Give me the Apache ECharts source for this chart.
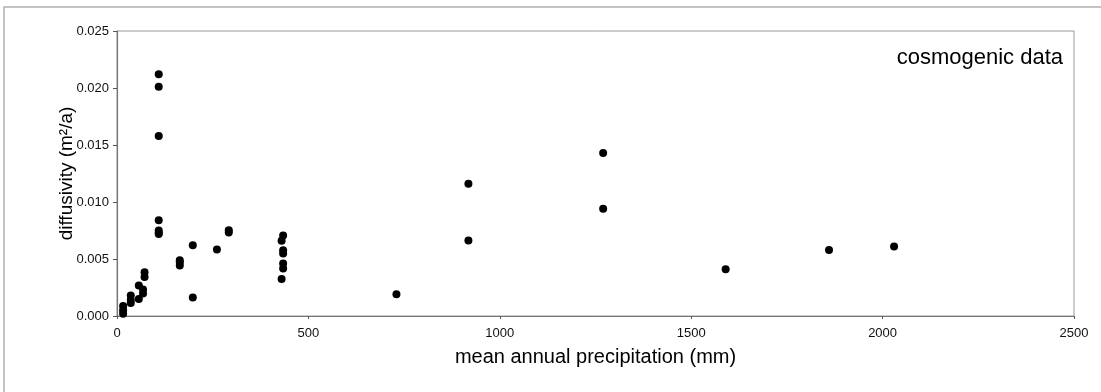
<!DOCTYPE html>
<html><head><meta charset="utf-8">
<script src="https://cdn.jsdelivr.net/npm/echarts@6/dist/echarts.min.js"></script>
<style>html,body{margin:0;padding:0;background:#fff}#c{width:1101px;height:392px}</style>
</head><body><div id="c"></div>
<script>
const precip = [109,109,109,109,109,109,109,
  16,16,16, 36,36,36, 57,57, 68,68, 72,72,
  164,164,164, 198,198, 261, 292,292,
  430,430, 434,434,434,434,434,
  730, 918,918, 1270,1270, 1590, 1860, 2030];
const diffusivity = [0.0212,0.0201,0.0158,0.0084,0.0075,0.0073,0.0072,
  0.00088,0.0005,0.0002, 0.0018,0.0014,0.00114, 0.00267,0.0015, 0.00232,0.00197, 0.00384,0.00343,
  0.0049,0.0047,0.00443, 0.0062,0.00162, 0.00583, 0.00753,0.00733,
  0.00659,0.00325, 0.00706,0.00577,0.00548,0.0046,0.00416,
  0.00191, 0.0116,0.00663, 0.0143,0.0094, 0.0041, 0.0058, 0.0061];
const xTicks = [0,500,1000,1500,2000,2500];
const yTicks = [0,0.005,0.010,0.015,0.020,0.025];
const points = precip.map((p,i)=>[p, diffusivity[i]]);
const tickFont = "'Liberation Sans Narrow', 'Liberation Sans', Arial, sans-serif";

const chart = echarts.init(document.getElementById('c'), null, {renderer:'canvas'});
chart.setOption({
  animation:false,
  backgroundColor:'#fff',
  graphic:[{type:'rect', shape:{x:4,y:7,width:1200,height:500}, style:{fill:'none', stroke:'#b0b0b0', lineWidth:1.5}, silent:true, z:-1},
    {type:'text', right:38, top:47, style:{text:'cosmogenic data', font:'22px "Liberation Sans", Arial, sans-serif', fill:'#000'}}],
  grid:{left:117, right:27, top:31, bottom:76, show:true, borderColor:'#999', borderWidth:1},
  xAxis:{type:'value', min:xTicks[0], max:xTicks[xTicks.length-1], interval:500,
    name:'mean annual precipitation (mm)', nameLocation:'middle', nameGap:31, nameMoveOverlap:false,
    nameTextStyle:{fontFamily:'Liberation Sans', fontSize:20, color:'#000'},
    axisLine:{show:true, lineStyle:{color:'#777', width:1.2}},
    axisTick:{show:true, length:3, lineStyle:{color:'#555'}},
    axisLabel:{fontFamily:tickFont, fontSize:13, color:'#111', margin:11, formatter:v=>String(v)},
    splitLine:{show:false}},
  yAxis:{type:'value', min:yTicks[0], max:yTicks[yTicks.length-1], interval:0.005,
    name:'diffusivity (m²/a)', nameLocation:'middle', nameGap:41, nameRotate:90, nameMoveOverlap:false,
    nameTextStyle:{fontFamily:'Liberation Sans', fontSize:19, color:'#000'},
    axisLine:{show:true, lineStyle:{color:'#777', width:1.2}},
    axisTick:{show:true, length:4, lineStyle:{color:'#555'}},
    axisLabel:{fontFamily:tickFont, fontSize:13, color:'#111', margin:8, formatter:v=>v.toFixed(3)},
    splitLine:{show:false}},
  series:[{type:'scatter', data:points, symbol:'circle', symbolSize:8, itemStyle:{color:'#000', opacity:1}}]
});
</script></body></html>
